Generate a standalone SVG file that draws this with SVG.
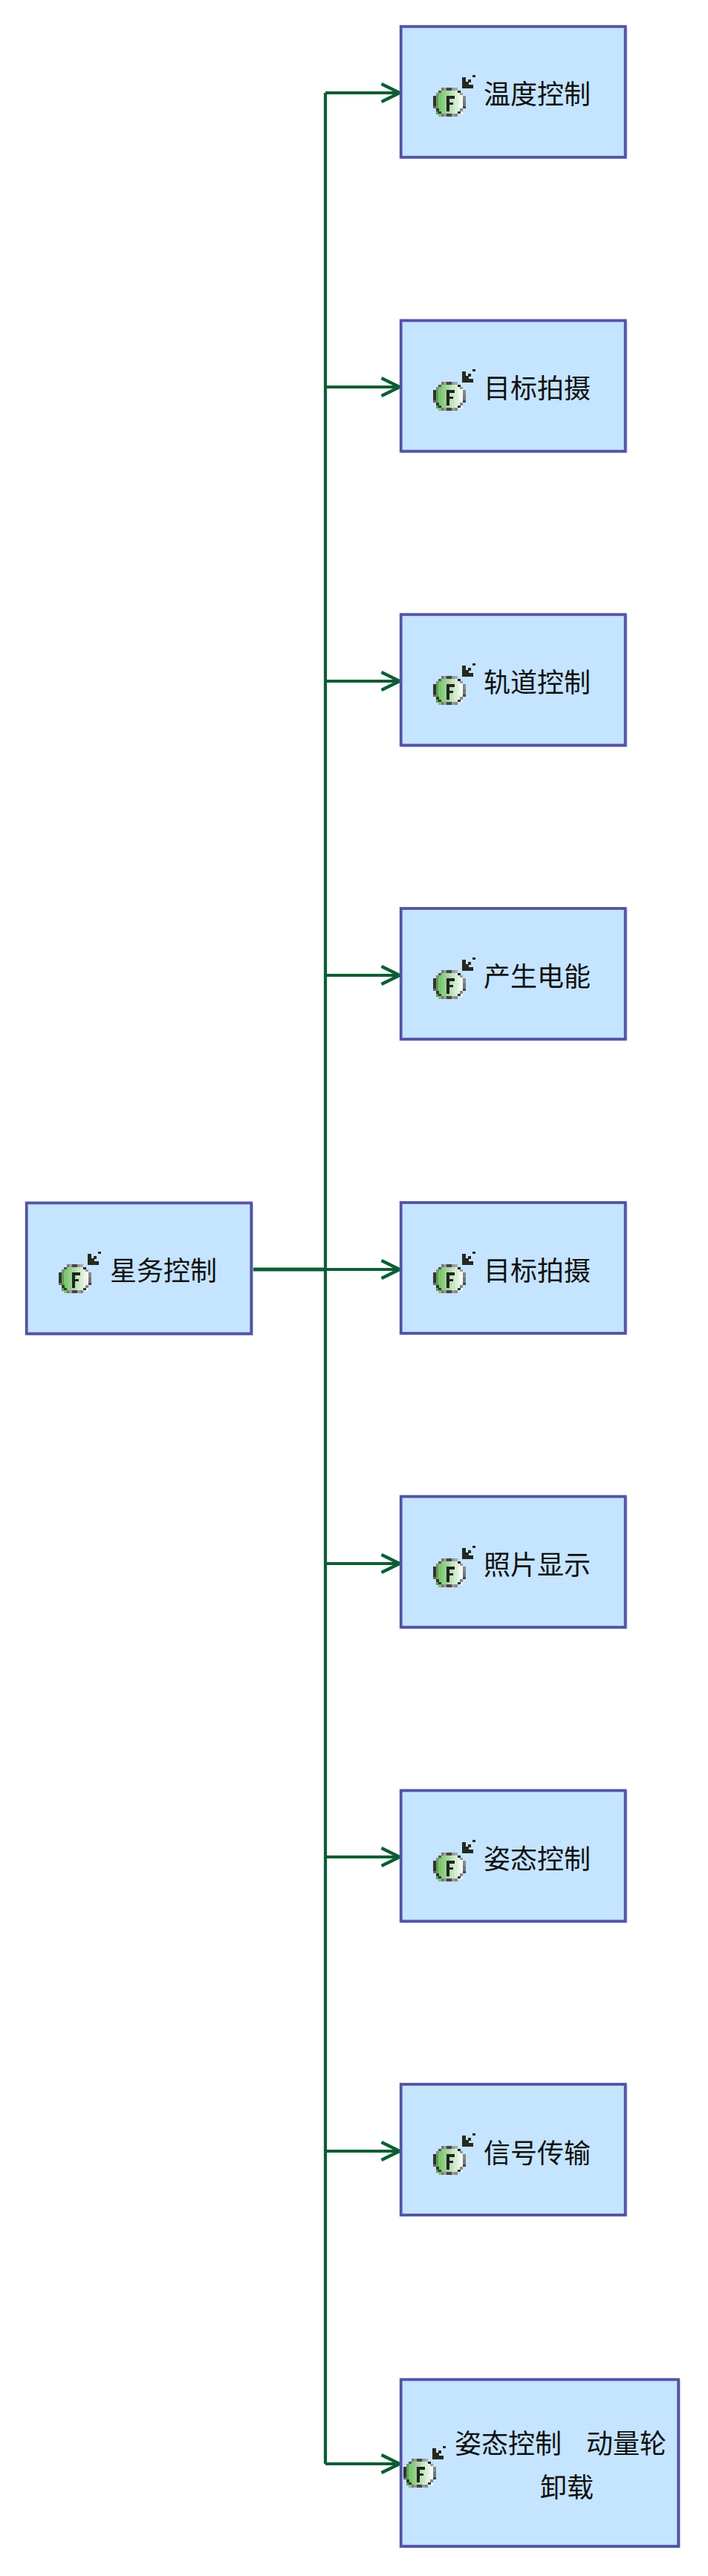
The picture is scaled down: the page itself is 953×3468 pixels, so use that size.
<svg xmlns="http://www.w3.org/2000/svg" width="953" height="3468" viewBox="0 0 953 3468">
<style>
.box{fill:#c5e4ff;stroke:#5353a5;stroke-width:3.8}
.halo{fill:none;stroke:#c3d3f0;stroke-width:2}
.lab{font-family:"Noto Sans CJK SC","Noto Sans CJK TC",sans-serif;font-size:36px;fill:#111}
.wire{fill:none;stroke:#0b5e33;stroke-width:4.200;stroke-linejoin:miter}
.src{fill:none;stroke:#0b5e33;stroke-width:4.800}
.px rect,.px path{shape-rendering:crispEdges}
</style>
<defs>
<marker id="open" markerUnits="userSpaceOnUse" markerWidth="32" markerHeight="32" refX="28" refY="16" orient="auto">
<path d="M1.500 4 L26 16 L1.500 28" fill="none" stroke="#0b5e33" stroke-width="4.200"/>
</marker>
<g id="ico" class="px">
<rect x="4" y="7" width="4" height="29" fill="#5d9f50"/>
<rect x="7" y="4" width="4" height="35" fill="#7cc672"/>
<rect x="11" y="4" width="4" height="35" fill="#85cc7c"/>
<rect x="14" y="0" width="4" height="39" fill="#93d28b"/>
<rect x="18" y="0" width="4" height="39" fill="#a5d89e"/>
<rect x="22" y="0" width="4" height="39" fill="#b6e0b1"/>
<rect x="25" y="0" width="4" height="39" fill="#c6e7c3"/>
<rect x="29" y="4" width="4" height="35" fill="#d6eed4"/>
<rect x="33" y="4" width="4" height="32" fill="#e6f4e5"/>
<rect x="36" y="7" width="4" height="29" fill="#f3f9f2"/>
<rect x="11" y="0" width="4" height="4" fill="#777"/>
<rect x="14" y="0" width="4" height="4" fill="#999"/>
<rect x="18" y="0" width="7" height="4" fill="#444"/>
<rect x="25" y="0" width="4" height="4" fill="#999"/>
<rect x="29" y="0" width="4" height="4" fill="#aaa"/>
<rect x="7" y="4" width="4" height="3" fill="#555"/>
<rect x="33" y="4" width="4" height="3" fill="#222"/>
<rect x="4" y="7" width="4" height="3" fill="#888"/>
<rect x="36" y="7" width="4" height="3" fill="#999"/>
<rect x="0" y="11" width="4" height="14" fill="#333"/>
<rect x="0" y="25" width="4" height="3" fill="#666"/>
<rect x="40" y="11" width="4" height="7" fill="#888"/>
<rect x="40" y="18" width="4" height="7" fill="#777"/>
<rect x="40" y="25" width="4" height="3" fill="#444"/>
<rect x="4" y="28" width="4" height="4" fill="#333"/>
<rect x="36" y="28" width="4" height="4" fill="#888"/>
<rect x="7" y="32" width="4" height="3" fill="#333"/>
<rect x="33" y="32" width="4" height="3" fill="#333"/>
<rect x="11" y="35" width="4" height="4" fill="#777"/>
<rect x="14" y="35" width="4" height="4" fill="#999"/>
<rect x="18" y="35" width="7" height="4" fill="#444"/>
<rect x="25" y="35" width="4" height="4" fill="#999"/>
<rect x="29" y="35" width="4" height="4" fill="#888"/>
<rect x="18" y="11" width="4" height="21" fill="#222"/>
<rect x="18" y="11" width="11" height="4" fill="#222"/>
<rect x="18" y="20" width="9" height="3" fill="#222"/>
<path d="M39 -14H44V-8H47V-11H51V-7H48V-4H54V1H39Z M53 -17H57V-14H53Z" fill="#25291f"/>
</g>
</defs>
<g id="connectors">
<path class="src" d="M340 1709H438"/>
<path class="wire" d="M438 125V3317"/>
<path class="wire" marker-end="url(#open)" d="M438 125H540"/>
<path class="wire" marker-end="url(#open)" d="M438 521H540"/>
<path class="wire" marker-end="url(#open)" d="M438 917H540"/>
<path class="wire" marker-end="url(#open)" d="M438 1313H540"/>
<path class="wire" marker-end="url(#open)" d="M438 1709H540"/>
<path class="wire" marker-end="url(#open)" d="M438 2105H540"/>
<path class="wire" marker-end="url(#open)" d="M438 2500H540"/>
<path class="wire" marker-end="url(#open)" d="M438 2896H540"/>
<path class="wire" marker-end="url(#open)" d="M438 3317H540"/>
</g>
<g id="source"><rect class="halo" x="37" y="1621" width="303" height="176"/><rect class="box" x="35.700" y="1619.500" width="302.600" height="176"/><use href="#ico" x="79" y="1702"/><text class="lab" x="148" y="1724">星务控制</text></g>
<g id="n1"><rect class="halo" x="541" y="37" width="302.500" height="176"/><rect class="box" x="539.700" y="35.700" width="302" height="176"/><use href="#ico" x="583" y="118"/><text class="lab" x="651" y="140">温度控制</text></g>
<g id="n2"><rect class="halo" x="541" y="433" width="302.500" height="176"/><rect class="box" x="539.700" y="431.500" width="302" height="176"/><use href="#ico" x="583" y="514"/><text class="lab" x="651" y="536">目标拍摄</text></g>
<g id="n3"><rect class="halo" x="541" y="829" width="302.500" height="176"/><rect class="box" x="539.700" y="827.300" width="302" height="176"/><use href="#ico" x="583" y="910"/><text class="lab" x="651" y="932">轨道控制</text></g>
<g id="n4"><rect class="halo" x="541" y="1224" width="302.500" height="176"/><rect class="box" x="539.700" y="1223" width="302" height="176"/><use href="#ico" x="583" y="1306"/><text class="lab" x="651" y="1328">产生电能</text></g>
<g id="n5"><rect class="halo" x="541" y="1620" width="302.500" height="176"/><rect class="box" x="539.700" y="1619" width="302" height="176"/><use href="#ico" x="583" y="1702"/><text class="lab" x="651" y="1724">目标拍摄</text></g>
<g id="n6"><rect class="halo" x="541" y="2016" width="302.500" height="176"/><rect class="box" x="539.700" y="2014.700" width="302" height="176"/><use href="#ico" x="583" y="2098"/><text class="lab" x="651" y="2120">照片显示</text></g>
<g id="n7"><rect class="halo" x="541" y="2412" width="302.500" height="176"/><rect class="box" x="539.700" y="2410.500" width="302" height="176"/><use href="#ico" x="583" y="2494"/><text class="lab" x="651" y="2516">姿态控制</text></g>
<g id="n8"><rect class="halo" x="541" y="2807" width="302.500" height="176"/><rect class="box" x="539.700" y="2806" width="302" height="176"/><use href="#ico" x="583" y="2889"/><text class="lab" x="651" y="2912">信号传输</text></g>
<g id="n9"><rect class="halo" x="541" y="3205" width="374" height="224.500"/><rect class="box" x="539.700" y="3203.500" width="373.500" height="224.500"/><use href="#ico" x="543" y="3310"/><text class="lab" x="612" y="3303">姿态控制　<tspan dx="-3">动量轮</tspan></text><text class="lab" x="727" y="3362">卸载</text></g>
</svg>
